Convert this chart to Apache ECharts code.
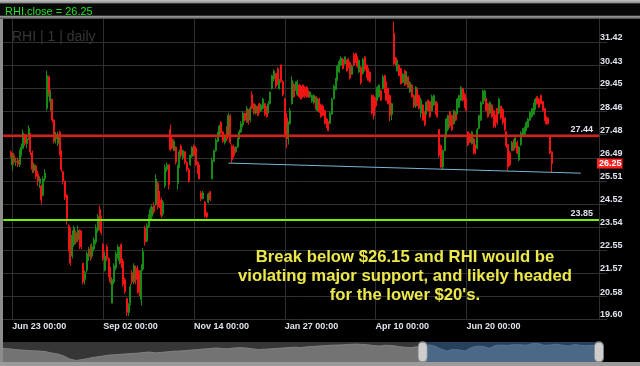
<!DOCTYPE html>
<html><head><meta charset="utf-8">
<script src="https://cdn.jsdelivr.net/npm/echarts@6/dist/echarts.min.js"></script>
<style>html,body{margin:0;padding:0;background:#000;}#c{width:640px;height:366px;}</style>
</head><body><div id="c"></div>
<script>
// ---------- DATA ----------
const ticker = 'RHI';
const lastClose = 26.25;
const firstCategoryDate = '2011-06-16';
const padBefore = 4;
const padAfter = 26;
const holidays = ['2011-07-04','2011-09-05','2011-11-24','2011-12-26','2012-01-02','2012-01-16','2012-02-20','2012-04-06','2012-05-28','2012-07-04'];
const xTickDates = ['2011-06-23','2011-09-02','2011-11-14','2012-01-27','2012-04-10','2012-06-20'];
const yTicks = [19.60,20.58,21.57,22.55,23.54,24.52,25.51,26.49,27.48,28.46,29.45,30.43,31.42];
const resistance = 27.44;
const support = 23.85;
const trendLine = [[120, 26.27], [314, 25.84]]; // [bar index, price]
// daily bars: [open, close, low, high]
const bars = [
[26.75,26.55,26.5,26.8],[26.2,26.6,25.95,26.7],[26.6,26.3,26.2,26.7],[26.3,26.35,26.15,26.5],[26.4,26.2,26.1,26.5],
[26.2,26.6,26.1,26.85],[26.6,26.95,26.55,27.1],[26.9,27.55,26.85,27.7],[27.5,27.1,27.0,27.5],[27.1,27.3,26.9,27.4],
[27.3,27.75,27.25,27.88],[27.5,26.75,26.6,27.55],[26.7,26.0,25.85,26.8],[25.95,26.2,25.85,26.3],[26.15,25.7,25.6,26.2],
[25.8,25.5,25.3,25.95],[25.4,25.6,25.2,25.7],[25.3,24.7,24.5,25.35],[24.9,25.6,24.85,25.7],[25.6,25.85,25.5,26.0],
[28.6,30.0,28.5,30.2],[29.95,29.2,29.1,30.0],[28.9,29.3,28.5,29.4],[29.0,28.1,28.0,29.0],[28.1,27.2,27.1,28.15],
[27.3,27.5,27.1,27.6],[27.1,27.5,27.0,27.6],[27.6,26.8,26.6,27.65],[26.8,26.0,25.9,26.8],[25.9,25.5,25.35,25.95],
[25.5,24.8,24.7,25.5],[24.9,23.8,23.65,24.95],[23.6,22.6,22.5,23.65],[23.4,22.0,21.9,23.5],[22.3,23.2,22.2,23.4],
[22.8,23.5,22.7,23.6],[23.3,22.9,22.8,23.4],[23.0,23.4,22.9,23.6],[23.4,22.7,22.6,23.45],[23.3,22.8,22.6,23.4],
[22.0,21.2,21.1,22.0],[21.3,21.6,21.1,21.7],[21.7,22.4,21.6,22.5],[22.3,22.55,22.1,22.7],[22.6,22.3,22.1,22.8],
[22.3,22.7,22.2,22.85],[22.6,23.0,22.5,23.1],[22.9,23.5,22.8,23.65],[23.4,24.0,23.3,24.1],[24.3,23.5,23.4,24.45],
[23.9,23.3,23.2,24.0],[22.8,22.2,22.1,22.85],[21.7,22.3,21.65,22.5],[22.7,22.2,22.1,22.8],[22.2,21.5,21.4,22.25],
[21.8,21.2,21.1,21.85],[20.3,21.3,20.3,21.4],[21.2,21.9,21.1,22.0],[21.8,22.4,21.7,22.5],[22.3,22.7,22.2,22.8],
[22.1,22.6,21.95,22.7],[22.8,22.0,21.8,22.85],[22.1,21.1,21.0,22.2],[21.3,20.8,20.7,21.4],[20.5,19.9,19.75,20.5],
[19.9,20.25,19.75,20.3],[20.3,21.0,20.2,21.1],[21.6,21.2,21.1,21.7],[21.2,21.9,21.1,22.0],[21.8,21.3,21.1,21.9],
[21.7,21.1,20.7,21.9],
[21.6,20.75,20.6,21.7],[20.45,21.7,20.2,21.95],[21.75,22.5,21.67,22.65],[23.5,22.9,22.75,23.6],[22.95,23.6,22.9,23.7],
[23.55,24.0,23.5,24.08],[23.95,24.3,23.85,24.4],[24.0,24.4,23.8,24.5],[24.45,24.2,24.1,24.6],[24.5,25.6,24.45,25.79],
[25.4,24.4,24.3,25.5],[24.9,24.5,24.35,25.08],[24.7,24.05,23.94,24.8],[24.1,24.6,24.0,24.7],[25.3,26.1,25.22,26.21],
[26.0,26.2,25.9,26.3],[26.2,25.35,25.15,26.21],[27.7,26.85,26.78,27.91],[27.3,26.9,26.85,27.42],[26.8,27.2,26.78,27.28],
[26.95,26.3,26.21,26.99],[25.4,26.15,25.15,26.21],[26.1,26.75,26.07,26.85],[27.0,26.6,26.5,27.06],[26.5,26.8,26.4,26.85],
[26.75,26.3,26.21,26.78],[26.3,26.0,25.9,26.35],[26.0,25.5,25.43,26.07],[26.2,26.6,26.15,26.64],[26.55,26.95,26.5,26.99],
[27.0,26.6,26.57,27.06],[26.9,26.2,26.14,26.99],[26.3,25.85,25.79,26.35],[26.1,25.6,25.57,26.21],[25.0,24.75,24.65,25.08],
[24.75,25.0,24.72,25.08],[24.6,24.0,23.94,24.65],[24.15,23.97,23.9,24.2],[24.6,24.95,24.55,25.0],[25.05,24.7,24.65,25.08],
[25.6,26.4,25.57,26.5],[26.35,26.8,26.3,26.85],[26.8,27.25,26.75,27.35],[27.2,27.5,27.15,27.6],[27.45,27.85,27.4,27.91],
[28.0,27.55,27.49,28.06],[27.6,27.2,27.13,27.63],[27.15,27.4,27.06,27.49],[27.8,27.3,27.21,27.84],[27.5,28.3,27.45,28.41],
[28.3,27.15,27.06,28.34],[27.0,26.4,26.28,27.06],[26.95,26.6,26.5,27.06],[26.75,26.95,26.71,26.99],[26.95,27.3,26.92,27.35],
[27.3,27.6,27.3,27.7],[27.6,27.95,27.55,28.06],[27.9,28.4,27.8,28.48],[28.4,28.1,28.05,28.41],[28.1,28.6,28.0,28.7],
[28.55,28.0,27.91,28.55],[28.1,28.6,28.0,28.7],[29.2,28.6,28.55,29.33],[28.8,28.4,28.34,28.84],[28.4,28.7,28.34,28.77],
[28.7,28.3,28.27,28.7],[28.8,28.5,28.41,28.84],[28.5,28.75,28.45,28.8],[28.6,29.0,28.55,29.05],[28.8,28.35,28.27,28.84],
[28.6,28.25,28.2,28.7],[28.4,28.8,28.4,28.91],[28.8,29.3,28.77,29.33],[29.45,30.0,29.4,30.04],[29.85,30.2,29.76,30.26],
[30.1,29.55,29.48,30.11],
[30.3,29.65,29.6,30.35],[29.45,29.8,29.4,29.85],[30.45,29.75,29.69,30.47],[29.75,29.19,29.12,29.8],[29.0,27.4,27.35,29.05],
[28.2,27.5,26.92,28.41],[27.3,28.0,27.06,28.06],[27.95,28.5,27.9,28.62],[28.8,29.8,28.77,29.97],[29.62,29.1,29.05,29.7],
[29.4,29.7,29.35,29.76],[29.2,29.75,29.12,29.83],[29.6,29.1,29.05,29.65],[29.55,29.0,28.98,29.6],[29.6,29.1,29.05,29.62],
[29.5,29.12,29.05,29.55],[29.5,29.1,29.05,29.55],[29.35,29.1,29.05,29.4],[29.1,29.3,29.05,29.33],[28.9,29.15,28.84,29.19],
[28.85,29.15,28.77,29.2],[29.1,28.6,28.55,29.12],[28.5,29.0,28.48,29.05],[29.0,28.45,28.41,29.05],[28.75,28.25,28.2,28.8],
[28.7,28.3,28.27,28.77],[28.5,27.95,27.91,28.55],[28.15,27.8,27.77,28.2],[28.0,27.65,27.63,28.06],[27.95,28.4,27.95,28.48],
[28.35,29.0,28.34,29.05],[29.0,29.55,29.0,29.62],[29.4,29.85,29.38,29.9],[29.8,30.4,29.76,30.47],[30.15,30.6,30.11,30.68],
[30.45,30.75,30.4,30.82],[30.7,30.3,30.26,30.75],[30.5,30.8,30.47,30.82],[30.65,30.2,30.18,30.68],[30.7,30.35,30.33,30.75],
[30.55,29.9,29.83,30.61],[30.05,30.4,30.04,30.47],[30.9,30.45,30.4,30.97],[30.95,30.6,30.54,30.97],[30.8,30.4,30.33,30.82],
[30.15,30.65,30.11,30.68],[30.35,29.7,29.62,30.4],[30.1,30.7,30.04,30.75],[30.8,30.25,30.18,30.82],[30.45,29.95,29.9,30.47],
[30.3,29.8,29.76,30.33],[30.15,29.75,29.69,30.18],[29.15,28.4,28.34,29.19],[29.1,28.3,28.13,29.19],[29.0,28.7,28.62,29.05],
[28.95,29.5,28.91,29.55],[29.1,29.6,29.05,29.62],[29.35,28.95,28.91,29.4],[29.45,29.95,29.4,30.04],[30.0,29.3,29.26,30.04],
[29.7,28.95,28.91,29.76],[29.45,28.8,28.77,29.48],[29.15,28.3,28.06,29.19],[28.35,28.8,28.1,28.84],[31.8,30.5,30.45,32.31],
[30.75,30.45,30.4,30.8],[30.2,30.6,30.18,30.68],[30.45,30.0,29.97,30.47],[30.3,29.65,29.62,30.33],[29.7,30.05,29.69,30.11],
[30.2,29.6,29.55,30.26],[29.65,30.1,29.62,30.18],[29.95,29.5,29.48,29.97],[29.3,29.7,29.26,29.76],[29.6,29.1,29.05,29.62],
[29.15,28.7,28.62,29.19],
[28.7,29.5,28.62,29.55],[29.4,28.8,28.7,29.48],[29.15,28.6,28.55,29.19],[28.4,28.95,28.2,29.05],[28.75,28.1,28.06,28.77],
[28.4,27.9,27.84,28.48],[28.35,28.85,28.34,28.91],[28.95,28.5,28.48,28.98],[28.9,28.25,28.2,28.91],[28.5,29.1,28.48,29.19],
[28.75,29.15,28.7,29.19],[28.9,28.4,28.34,28.91],[28.8,28.25,28.2,28.84],[27.7,26.6,26.5,27.7],[27.0,26.1,26.07,27.06],
[26.1,26.8,26.0,26.85],[26.8,27.45,26.78,27.49],[27.45,28.15,27.35,28.2],[27.7,28.3,27.63,28.34],[28.45,27.85,27.77,28.48],
[28.3,27.7,27.63,28.34],[27.95,28.5,27.91,28.55],[28.45,28.1,28.06,28.48],[28.35,29.0,28.34,29.05],[28.65,29.15,28.62,29.19],
[28.95,29.5,28.91,29.55],[29.45,28.95,28.91,29.48],[29.2,28.7,28.62,29.26],[29.0,28.5,28.48,29.05],[27.6,27.05,26.99,27.63],
[27.5,27.15,27.13,27.56],[27.1,27.6,27.06,27.63],[27.3,26.7,26.64,27.35],[27.0,26.7,26.64,27.06],[26.9,27.7,26.85,27.77],
[27.75,28.3,27.7,28.34],[28.1,28.85,28.06,28.91],[28.8,29.35,28.77,29.4],[28.95,29.35,28.91,29.4],[29.0,28.5,28.48,29.05],
[28.8,28.25,28.2,28.84],[28.4,28.85,28.34,28.91],[28.75,28.25,28.2,28.77],[28.5,27.85,27.77,28.55],[28.3,27.85,27.77,28.34],
[28.6,28.0,27.91,28.62],[28.4,29.0,28.34,29.05],[28.7,28.2,28.13,28.7],[28.55,28.0,27.91,28.62],[28.2,27.7,27.63,28.2],
[27.63,27.0,26.92,27.63],[27.06,26.1,25.93,27.06],[26.7,26.2,26.14,26.78],[26.8,27.15,26.78,27.21],[27.25,26.85,26.78,27.28],
[26.95,27.35,26.92,27.42],[27.15,26.7,26.64,27.21],[26.4,26.95,26.35,26.99],[27.05,27.55,27.0,27.63],[27.45,27.75,27.42,27.77],
[27.5,27.8,27.49,27.84],[27.65,28.0,27.63,28.06],[27.8,28.15,27.77,28.2],[28.1,28.45,28.06,28.48],[28.25,28.6,28.2,28.62],
[28.35,28.75,28.34,28.84],[28.55,29.0,28.55,29.05],[29.1,28.8,28.77,29.12],[29.0,28.65,28.62,29.05],[29.15,28.8,28.77,29.19],
[28.9,28.5,28.48,28.91],[28.6,28.1,28.06,28.62],[28.25,27.95,27.91,28.27],[28.2,27.95,27.91,28.2],[27.4,26.7,26.64,27.42],
[26.75,26.25,25.86,26.78]
];
// overview (navigator) closes, coarse
const overviewEarlier = [24.5,24.0,23.0,22.5,22.0,21.5,21.25,20.5,18.75,17.5,15.0,11.25,9.5,10.5,12.0,13.5,14.5,15.75,16.5,17.0,
17.5,18.0,18.5,19.25,20.0,19.0,19.5,20.25,21.0,21.25,21.75,22.5,23.0,23.75,24.25,25.0,24.5,24.0,25.0,25.5,
25.0,24.0,23.0,23.5,24.0,24.5,25.0,25.5,26.0,25.5,26.5,27.0,27.5,28.0,28.5,28.75,29.0,29.5,30.0,29.5,
29.0,28.0,27.5,28.5,28.0,27.0,26.0,25.5,26.5,27.0];
const overviewSelected = [26.6,29.0,27.5,23.8,21.2,23.3,22.6,21.1,25.6,27.2,26.95,24.7,28.3,28.6,28.35,29.19,29.0,28.45,30.4,30.6,
28.3,28.8,29.7,28.5,27.45,29.5,28.3,27.85,28.45,26.25];
const annotation = ["Break below $26.15 and RHI would be", "violating major support, and likely headed", "for the lower $20's."];

// ---------- BUILD ----------
const MONTHS = ['Jan','Feb','Mar','Apr','May','Jun','Jul','Aug','Sep','Oct','Nov','Dec'];
function tradingDays(start, count) {
  const out = []; const d = new Date(start + 'T00:00:00Z');
  while (out.length < count) {
    const dow = d.getUTCDay(); const s = d.toISOString().slice(0, 10);
    if (dow !== 0 && dow !== 6 && holidays.indexOf(s) < 0) out.push(s);
    d.setUTCDate(d.getUTCDate() + 1);
  }
  return out;
}
const categories = tradingDays(firstCategoryDate, padBefore + bars.length + padAfter);
const tickIdx = new Set(xTickDates.map(d => categories.indexOf(d)));
const isTick = (i) => tickIdx.has(i);
const candleData = categories.map((_, k) => {
  const i = k - padBefore;
  return (i >= 0 && i < bars.length) ? bars[i] : ['-','-','-','-'];
});
const fmtDate = (s) => MONTHS[+s.slice(5,7) - 1] + ' ' + s.slice(8,10) + ' 00:00';

const ovCount = overviewEarlier.length + overviewSelected.length - 1;
const ovCats = Array.from({length: ovCount}, (_, i) => i);
const ovSelStart = overviewEarlier.length - 1;
const ovA = ovCats.map(i => i <= ovSelStart ? overviewEarlier[i] : '-');
const ovB = ovCats.map(i => i >= ovSelStart ? overviewSelected[i - ovSelStart] : '-');

const UP = '#178a17', DOWN = '#f01414';
const LBL = '#dfe4ee';
const GRIDC = '#303030';
const FONT = 'Liberation Sans';
const TREND = {color: '#7ab4d4', width: 1, type: 'solid'};

const chart = echarts.init(document.getElementById('c'), null, {renderer: 'canvas'});
chart.setOption({
  animation: false,
  backgroundColor: '#000',
  grid: [
    {left: 3.24, right: 41, top: 19.2, bottom: 46.5},
    {left: 3, right: 41, top: 342, height: 20, show: true, backgroundColor: '#363636', borderWidth: 0}
  ],
  xAxis: [
    {type: 'category', data: categories, boundaryGap: false, gridIndex: 0,
     axisLine: {show: false},
     axisTick: {show: false},
     axisLabel: {interval: isTick, formatter: fmtDate, color: LBL, fontSize: 9, fontWeight: 'bold', fontFamily: FONT, align: 'left', margin: 3},
     splitLine: {show: true, interval: isTick, lineStyle: {color: GRIDC, width: 1}}},
    {type: 'category', data: ovCats, boundaryGap: false, gridIndex: 1, show: false}
  ],
  yAxis: [
    {type: 'value', position: 'right', gridIndex: 0, min: 19.60, max: 32.405,
     axisLine: {show: true, lineStyle: {color: GRIDC}},
     axisTick: {show: true, length: 8, customValues: yTicks, lineStyle: {color: GRIDC}},
     axisLabel: {customValues: yTicks, formatter: v => v.toFixed(2), color: LBL, fontSize: 9, fontWeight: 'bold', fontFamily: FONT, margin: 1, verticalAlign: 'bottom'},
     splitLine: {show: true, lineStyle: {color: GRIDC, width: 1}}},
    {type: 'value', gridIndex: 1, min: 7.5, max: 32.5, show: false}
  ],
  series: [
    {type: 'candlestick', name: ticker, xAxisIndex: 0, yAxisIndex: 0, data: candleData, barWidth: 1.5,
     itemStyle: {color: UP, color0: DOWN, borderColor: UP, borderColor0: DOWN, borderWidth: 1},
     markLine: {
       silent: true, symbol: ['none', 'none'], animation: false,
       data: [
         {yAxis: resistance, lineStyle: {color: '#ff1010', width: 2, type: 'solid'},
          label: {show: true, position: 'insideEndTop', formatter: resistance.toFixed(2), color: LBL, fontSize: 9, fontWeight: 'bold', fontFamily: FONT, distance: [6, 2]}},
         {yAxis: support, lineStyle: {color: '#72f000', width: 2, type: 'solid'},
          label: {show: true, position: 'insideEndTop', formatter: support.toFixed(2), color: LBL, fontSize: 9, fontWeight: 'bold', fontFamily: FONT, distance: [6, 2]}},
         [{coord: [trendLine[0][0] + padBefore, trendLine[0][1]], lineStyle: TREND, label: {show: false}},
          {coord: [trendLine[1][0] + padBefore, trendLine[1][1]]}],
         {yAxis: lastClose, lineStyle: {color: 'rgba(0,0,0,0)', width: 0},
          label: {show: true, position: 'end', formatter: lastClose.toFixed(2), color: '#fff', backgroundColor: '#ff2020', padding: [1, 1, 0, 2], fontSize: 9, fontWeight: 'bold', fontFamily: FONT, distance: -2}}
       ]
     }},
    {type: 'line', xAxisIndex: 1, yAxisIndex: 1, data: ovA, symbol: 'none', silent: true,
     lineStyle: {color: '#8a8a8a', width: 0.8}, areaStyle: {color: '#737373', opacity: 1},
     markArea: {silent: true, itemStyle: {color: '#26415c'}, data: [[{xAxis: ovSelStart}, {xAxis: ovCount - 1}]]}},
    {type: 'line', xAxisIndex: 1, yAxisIndex: 1, data: ovB, symbol: 'none', silent: true, z: 3,
     lineStyle: {color: '#5b7a98', width: 0.8}, areaStyle: {color: '#4b6986', opacity: 1},
     markPoint: {silent: true, symbol: 'path://M5,0 C8,0 10,2 10,6 L10,18 C10,22 8,24 5,24 C2,24 0,22 0,18 L0,6 C0,2 2,0 5,0 Z',
       symbolSize: [9, 20], symbolKeepAspect: false, label: {show: false},
       itemStyle: {color: '#cdcdcd', borderColor: '#888', borderWidth: 1},
       data: [{coord: [ovSelStart, 20]}, {coord: [ovCount - 1, 20]}]}}
  ],
  graphic: [
    {type: 'rect', left: 0, top: 0, z: 10, shape: {width: 640, height: 19},
     style: {fill: new echarts.graphic.LinearGradient(0, 0, 0, 1, [
       {offset: 0, color: '#c4c4c4'}, {offset: 0.16, color: '#8a8a8a'}, {offset: 0.2, color: '#080808'},
       {offset: 0.8, color: '#080808'}, {offset: 0.86, color: '#9a9a9a'}, {offset: 1, color: '#4a4a4a'}])}},
    {type: 'text', left: 5, top: 6, z: 11, style: {text: ticker + '.close = ' + lastClose.toFixed(2), fill: '#22e022', font: '11px "Liberation Sans"'}},
    {type: 'rect', left: 0, top: 19, z: 10, shape: {width: 3, height: 347}, style: {fill: '#8c8c8c'}},
    {type: 'rect', left: 0, top: 362, z: 10, shape: {width: 640, height: 4}, style: {fill: '#9a9a9a'}},
    {type: 'text', left: 12, top: 30, z: 1, style: {text: ticker + ' | 1 | daily', fill: '#363636', font: '14px "Liberation Sans"'}},
    {type: 'text', z: 12, style: {text: annotation.join('\n'), x: 405, y: 247.5, textAlign: 'center', textVerticalAlign: 'top',
      fill: '#ece84a', font: 'bold 16.7px "Liberation Sans"', lineHeight: 19}}
  ]
});
</script>
</body></html>
